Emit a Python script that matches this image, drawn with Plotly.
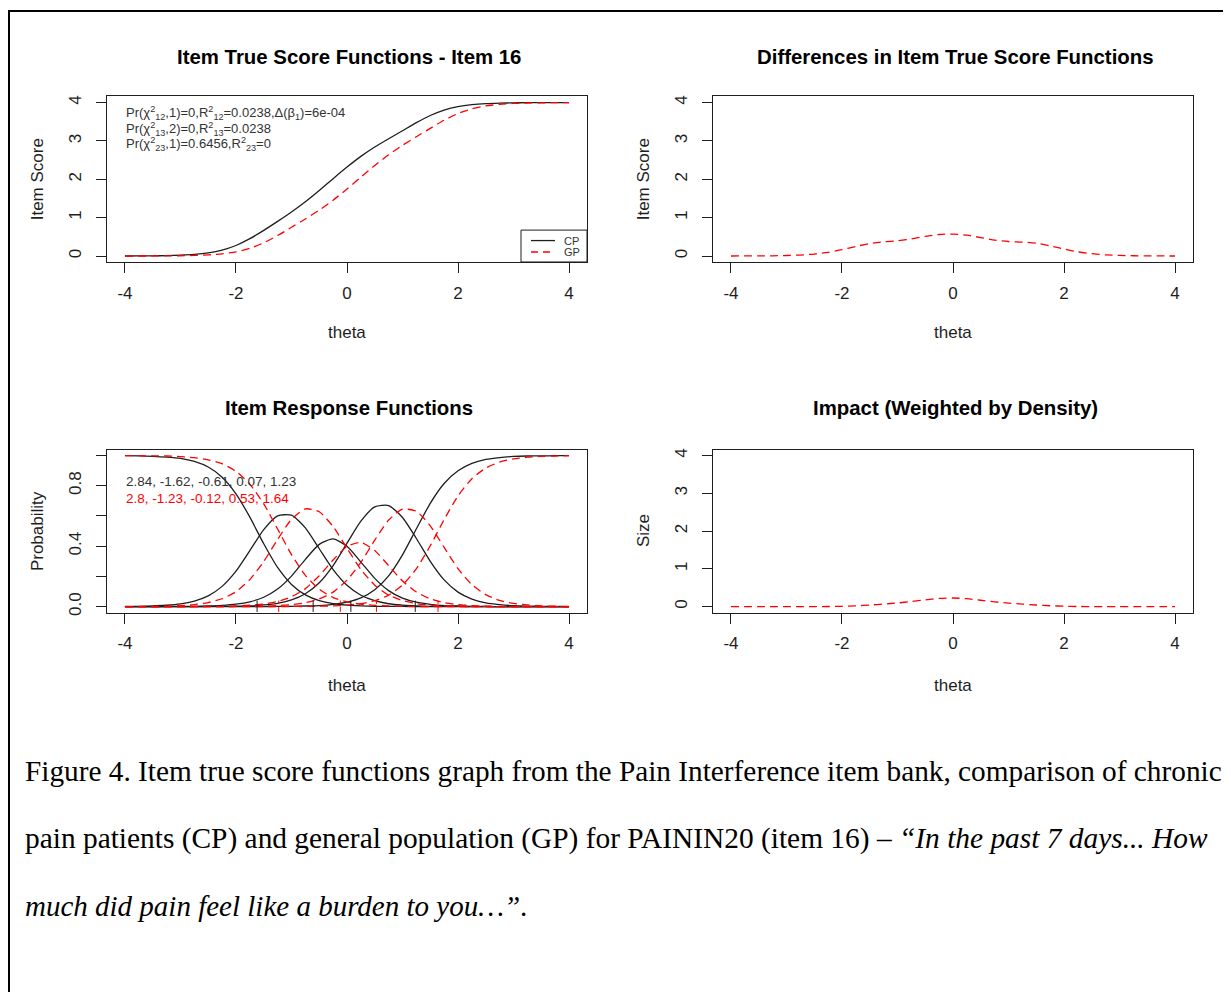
import plotly.graph_objects as go

# ---------------- data ----------------
theta = [-4.0, -3.75, -3.5, -3.25, -3.0, -2.75, -2.5, -2.25, -2.0, -1.75, -1.5, -1.25,
         -1.0, -0.75, -0.5, -0.25, 0.0, 0.25, 0.5, 0.75, 1.0, 1.25, 1.5, 1.75,
         2.0, 2.25, 2.5, 2.75, 3.0, 3.25, 3.5, 3.75, 4.0]

cp_score = [0.001, 0.003, 0.005, 0.010, 0.021, 0.041, 0.081, 0.154, 0.275, 0.452, 0.670, 0.904,
            1.149, 1.416, 1.709, 2.017, 2.319, 2.598, 2.841, 3.056, 3.266, 3.476, 3.664, 3.805,
            3.895, 3.946, 3.973, 3.986, 3.993, 3.997, 3.998, 3.999, 4.000]
gp_score = [0.000, 0.001, 0.002, 0.004, 0.007, 0.015, 0.029, 0.057, 0.110, 0.201, 0.344, 0.534,
            0.749, 0.967, 1.198, 1.456, 1.747, 2.055, 2.360, 2.641, 2.887, 3.111, 3.329, 3.540,
            3.714, 3.838, 3.912, 3.955, 3.977, 3.989, 3.995, 3.997, 3.999]
score_diff = [0.001, 0.002, 0.003, 0.006, 0.014, 0.026, 0.052, 0.097, 0.165, 0.251, 0.326, 0.370,
              0.400, 0.449, 0.511, 0.561, 0.572, 0.543, 0.481, 0.415, 0.379, 0.365, 0.335, 0.265,
              0.181, 0.108, 0.061, 0.031, 0.016, 0.008, 0.003, 0.002, 0.001]
impact = [0, 0, 0, 0, 0, 0, 0.001, 0.003, 0.009, 0.022, 0.042, 0.068,
          0.097, 0.135, 0.180, 0.217, 0.228, 0.210, 0.169, 0.125, 0.092, 0.067, 0.043, 0.023,
          0.010, 0.003, 0.001, 0, 0, 0, 0, 0, 0]

cp_p0 = [0.999, 0.998, 0.995, 0.990, 0.981, 0.961, 0.924, 0.857, 0.747, 0.592, 0.416, 0.259,
         0.147, 0.078, 0.040, 0.020, 0.010, 0.005, 0.002, 0.001, 0.001, 0, 0, 0,
         0, 0, 0, 0, 0, 0, 0, 0, 0]
cp_p1 = [0.001, 0.002, 0.005, 0.009, 0.018, 0.037, 0.071, 0.134, 0.235, 0.371, 0.510, 0.601,
         0.605, 0.521, 0.383, 0.245, 0.141, 0.075, 0.039, 0.019, 0.010, 0.005, 0.002, 0.001,
         0.001, 0, 0, 0, 0, 0, 0, 0, 0]
cp_p2 = [0.000, 0.000, 0.000, 0.001, 0.001, 0.002, 0.004, 0.008, 0.016, 0.032, 0.062, 0.116,
         0.202, 0.313, 0.412, 0.448, 0.399, 0.295, 0.187, 0.106, 0.056, 0.029, 0.015, 0.007,
         0.004, 0.002, 0.001, 0, 0, 0, 0, 0, 0]
cp_p3 = [0, 0, 0, 0, 0, 0, 0.001, 0.001, 0.003, 0.005, 0.011, 0.022,
         0.044, 0.085, 0.158, 0.272, 0.420, 0.566, 0.660, 0.669, 0.590, 0.451, 0.300, 0.177,
         0.096, 0.050, 0.025, 0.013, 0.006, 0.003, 0.002, 0.001, 0.000]
cp_p4 = [0, 0, 0, 0, 0, 0, 0, 0, 0, 0, 0, 0.001,
         0.002, 0.004, 0.007, 0.015, 0.030, 0.058, 0.112, 0.204, 0.343, 0.515, 0.684, 0.815,
         0.899, 0.948, 0.974, 0.987, 0.994, 0.997, 0.998, 0.999, 1.000]

gp_p0 = [1.000, 0.999, 0.998, 0.997, 0.993, 0.986, 0.972, 0.946, 0.896, 0.811, 0.680, 0.514,
         0.344, 0.207, 0.115, 0.060, 0.031, 0.016, 0.008, 0.004, 0.002, 0.001, 0, 0,
         0, 0, 0, 0, 0, 0, 0, 0, 0]
gp_p1 = [0.000, 0.001, 0.002, 0.003, 0.007, 0.013, 0.027, 0.052, 0.099, 0.179, 0.299, 0.445,
         0.578, 0.647, 0.628, 0.530, 0.386, 0.246, 0.142, 0.076, 0.040, 0.020, 0.010, 0.005,
         0.003, 0.001, 0.001, 0, 0, 0, 0, 0, 0]
gp_p2 = [0, 0, 0, 0, 0, 0.001, 0.001, 0.002, 0.004, 0.009, 0.017, 0.034,
         0.065, 0.119, 0.204, 0.309, 0.398, 0.425, 0.371, 0.271, 0.170, 0.097, 0.051, 0.027,
         0.013, 0.007, 0.003, 0.002, 0.001, 0, 0, 0, 0]
gp_p3 = [0, 0, 0, 0, 0, 0, 0, 0, 0.001, 0.002, 0.003, 0.007,
         0.013, 0.026, 0.051, 0.096, 0.175, 0.293, 0.440, 0.573, 0.645, 0.631, 0.535, 0.392,
         0.251, 0.145, 0.079, 0.041, 0.021, 0.011, 0.005, 0.003, 0.001]
gp_p4 = [0, 0, 0, 0, 0, 0, 0, 0, 0, 0, 0, 0,
         0.001, 0.001, 0.003, 0.005, 0.010, 0.020, 0.039, 0.076, 0.143, 0.251, 0.403, 0.576,
         0.733, 0.847, 0.917, 0.957, 0.978, 0.989, 0.995, 0.997, 0.999]

cp_a = 2.84
cp_b = [-1.62, -0.61, 0.07, 1.23]
gp_a = 2.8
gp_b = [-1.23, -0.12, 0.53, 1.64]

groups = ["CP", "GP"]
pr_12, r2_12, delta_b1 = "0", "0.0238", "6e-04"
pr_13, r2_13 = "0", "0.0238"
pr_23, r2_23 = "0.6456", "0"

x_ticks = [-4, -2, 0, 2, 4]
score_ticks = [0, 1, 2, 3, 4]
prob_ticks = [0.0, 0.2, 0.4, 0.6, 0.8, 1.0]
prob_ticklabels = ["0.0", "", "0.4", "", "0.8", ""]

titles = ["Item True Score Functions - Item 16", "Differences in Item True Score Functions",
          "Item Response Functions", "Impact (Weighted by Density)"]
ylabels = ["Item Score", "Item Score", "Probability", "Size"]

caption = [
    "Figure 4. Item true score functions graph from the Pain Interference item bank, comparison of chronic",
    "pain patients (CP) and general population (GP) for PAININ20 (item 16) \u2013 <i>\u201cIn the past 7 days... How</i>",
    "<i>much did pain feel like a burden to you\u2026\u201d</i>.",
]

# ---------------- layout helpers ----------------
W, H = 1231, 992
OFF = 8  # page body margin
def px(x):
    return (x - OFF) / W
def py(y):
    return 1 - (y - OFF) / H

FONT = "Liberation Sans, Arial, Helvetica, sans-serif"
SERIF = "Liberation Serif, Times New Roman, serif"
BLK = "#1e1e1e"
RED = "#ff0000"
DASH = "8px,5px"
LW = 1.3

xl, xr = [107.2, 713.2], [586.8, 1192.8]
ytop_row = [95.8, 450.3]
ybot_row = [262.2, 614.1]

fig = go.Figure()

def line(x, y, ax, color, dash=None):
    fig.add_trace(go.Scatter(
        x=x, y=y, mode="lines", xaxis=ax[0], yaxis=ax[1],
        line=dict(color=color, width=LW, dash=dash, shape="spline", smoothing=0.6),
        showlegend=False, hoverinfo="skip"))

# panel 1: true score functions
line(theta, cp_score, ("x", "y"), BLK)
line(theta, gp_score, ("x", "y"), RED, DASH)

# panel 2: differences
line(theta, score_diff, ("x2", "y2"), RED, DASH)

# panel 3: item response functions
for p in [cp_p0, cp_p1, cp_p2, cp_p3, cp_p4]:
    line(theta, p, ("x3", "y3"), BLK)
for p in [gp_p0, gp_p1, gp_p2, gp_p3, gp_p4]:
    line(theta, p, ("x3", "y3"), RED, DASH)

# threshold markers at the bottom of panel 3
def seg_xy(bs):
    xs, ys = [], []
    for b in bs:
        xs += [b, b, None]
        ys += [-0.035, 0.04, None]
    return xs, ys
sx, sy = seg_xy(cp_b)
fig.add_trace(go.Scatter(x=sx, y=sy, mode="lines", xaxis="x3", yaxis="y3",
                         line=dict(color=BLK, width=1), showlegend=False, hoverinfo="skip"))
sx, sy = seg_xy(gp_b)
fig.add_trace(go.Scatter(x=sx, y=sy, mode="lines", xaxis="x3", yaxis="y3",
                         line=dict(color=RED, width=1, dash="5px,3px"), showlegend=False, hoverinfo="skip"))

# panel 4: impact
line(theta, impact, ("x4", "y4"), RED, DASH)

# ---------------- axes ----------------
base = dict(showline=True, linecolor=BLK, linewidth=1, mirror=True, ticks="outside",
            ticklen=10, tickwidth=1, tickcolor=BLK, showgrid=False, zeroline=False,
            tickfont=dict(size=17, color=BLK, family=FONT), fixedrange=True)

layout_axes = {}
for i in range(4):
    col, row = i % 2, i // 2
    sfx = "" if i == 0 else str(i + 1)
    layout_axes["xaxis" + sfx] = dict(
        base, domain=[px(xl[col]), px(xr[col])], anchor="y" + sfx,
        range=[-4.32, 4.32], tickvals=x_ticks, ticktext=[str(t) for t in x_ticks],
        ticklabelstandoff=5)
    if i == 2:
        yt = dict(range=[-0.04, 1.04], tickvals=prob_ticks, ticktext=prob_ticklabels)
    else:
        yt = dict(range=[-0.16, 4.16], tickvals=score_ticks, ticktext=[str(t) for t in score_ticks])
    layout_axes["yaxis" + sfx] = dict(
        base, domain=[py(ybot_row[row]), py(ytop_row[row])], anchor="x" + sfx,
        tickangle=-90, ticklabelstandoff=8, **yt)

# ---------------- annotations ----------------
ann = []
centers_x = [(xl[0] + xr[0]) / 2, (xl[1] + xr[1]) / 2]
title_y = [56, 409]
xlab_y = [333, 687]
ylab_x = [37, 643]
for i in range(4):
    col, row = i % 2, i // 2
    ann.append(dict(text="<b>" + titles[i] + "</b>", x=px(centers_x[col] + 2), y=py(title_y[row]),
                    xref="paper", yref="paper", xanchor="center", yanchor="middle",
                    showarrow=False, font=dict(size=20.4, color="black", family=FONT)))
    ann.append(dict(text="theta", x=px(centers_x[col]), y=py(xlab_y[row]),
                    xref="paper", yref="paper", xanchor="center", yanchor="middle",
                    showarrow=False, font=dict(size=17, color=BLK, family=FONT)))
    ann.append(dict(text=ylabels[i], x=px(ylab_x[col]),
                    y=py((ytop_row[row] + ybot_row[row]) / 2),
                    xref="paper", yref="paper", xanchor="center", yanchor="middle",
                    textangle=-90, showarrow=False, font=dict(size=17, color=BLK, family=FONT)))

stat_lines = [
    "Pr(\u03c7<sup>2</sup><sub>12</sub>,1)=" + pr_12 + ",R<sup>2</sup><sub>12</sub>=" + r2_12
    + ",\u0394(\u03b2<sub>1</sub>)=" + delta_b1,
    "Pr(\u03c7<sup>2</sup><sub>13</sub>,2)=" + pr_13 + ",R<sup>2</sup><sub>13</sub>=" + r2_13,
    "Pr(\u03c7<sup>2</sup><sub>23</sub>,1)=" + pr_23 + ",R<sup>2</sup><sub>23</sub>=" + r2_23,
]
for k, s in enumerate(stat_lines):
    ann.append(dict(text=s, x=px(124), y=py(112 + 16 * k), xref="paper", yref="paper",
                    xanchor="left", yanchor="middle", showarrow=False,
                    font=dict(size=13, color="#333", family=FONT)))

cp_txt = ", ".join(str(v) for v in [cp_a] + cp_b)
gp_txt = ", ".join(str(v) for v in [gp_a] + gp_b)
ann.append(dict(text=cp_txt, x=px(124), y=py(482), xref="paper", yref="paper",
                xanchor="left", yanchor="middle", showarrow=False,
                font=dict(size=13.5, color="#333", family=FONT)))
ann.append(dict(text=gp_txt, x=px(124), y=py(499), xref="paper", yref="paper",
                xanchor="left", yanchor="middle", showarrow=False,
                font=dict(size=13.5, color=RED, family=FONT)))

cap_sizes = [29.3, 29.4, 29]
for k, s in enumerate(caption):
    ann.append(dict(text=s, x=px(23), y=py(773 + 68 * k), xref="paper", yref="paper",
                    xanchor="left", yanchor="middle", showarrow=False,
                    font=dict(size=cap_sizes[k], color="black", family=SERIF)))

# legend box (panel 1, bottom right)
leg_x0, leg_x1, leg_y0, leg_y1 = 521, 587, 230, 262
shapes = [
    dict(type="rect", xref="paper", yref="paper", x0=px(leg_x0), x1=px(leg_x1),
         y0=py(leg_y0), y1=py(leg_y1), line=dict(color=BLK, width=1), fillcolor="white", layer="above"),
    dict(type="line", xref="paper", yref="paper", x0=px(531), x1=px(555), y0=py(240.5), y1=py(240.5),
         line=dict(color=BLK, width=LW), layer="above"),
    dict(type="line", xref="paper", yref="paper", x0=px(531), x1=px(555), y0=py(252), y1=py(252),
         line=dict(color=RED, width=LW, dash="7px,5px"), layer="above"),
    dict(type="rect", xref="paper", yref="paper", x0=px(9), y0=py(10), x1=1.05, y1=-0.05,
         line=dict(color="black", width=2), fillcolor="rgba(0,0,0,0)", layer="above"),
]
for k, g in enumerate(groups):
    ann.append(dict(text=g, x=px(562), y=py(240.5 + 11.5 * k), xref="paper", yref="paper",
                    xanchor="left", yanchor="middle", showarrow=False,
                    font=dict(size=11, color="#333", family=FONT)))

fig.update_layout(
    width=W, height=H, margin=dict(l=0, r=0, t=0, b=0),
    paper_bgcolor="white", plot_bgcolor="white",
    font=dict(family=FONT, color=BLK),
    annotations=ann,
    showlegend=False,
    shapes=shapes,
    **layout_axes,
)

fig.write_html("out.html")
